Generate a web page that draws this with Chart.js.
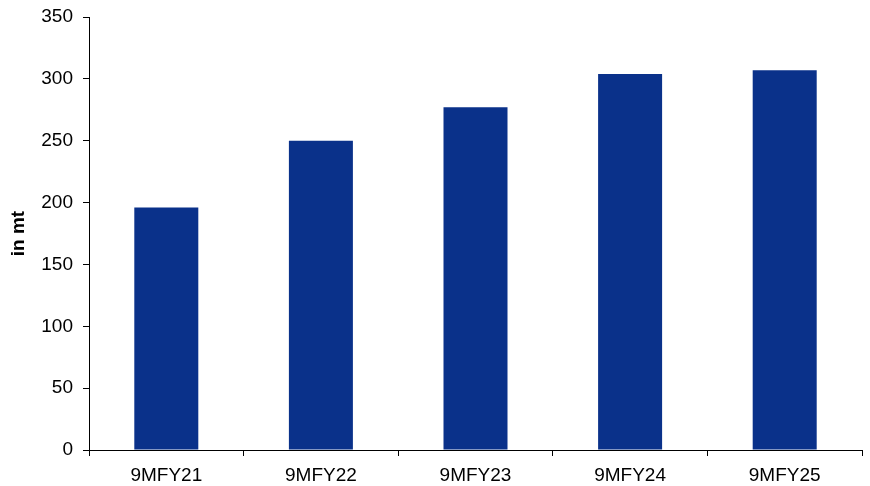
<!DOCTYPE html>
<html>
<head>
<meta charset="utf-8">
<script src="https://cdn.jsdelivr.net/npm/chart.js@4/dist/chart.umd.min.js"></script>
<style>
  html, body { margin: 0; padding: 0; background: #ffffff; }
  #wrap { width: 870px; height: 486px; }
</style>
</head>
<body>
<div id="wrap"><canvas id="c" width="870" height="486"></canvas></div>
<script>
// Nine-month volumes, in million tonnes
const categories = ['9MFY21', '9MFY22', '9MFY23', '9MFY24', '9MFY25'];
const volumes = [196, 250, 277, 304, 307];
const yTicks = [0, 50, 100, 150, 200, 250, 300, 350];

const FONT = '"Liberation Sans", Arial, sans-serif';
const BAR_BLUE = '#0a318a';

new Chart(document.getElementById('c'), {
  type: 'bar',
  data: {
    labels: categories,
    datasets: [{
      data: volumes,
      backgroundColor: BAR_BLUE,
      borderWidth: 0,
      barPercentage: 0.414,
      categoryPercentage: 1.0
    }]
  },
  options: {
    responsive: false,
    animation: false,
    layout: { padding: { top: 17, right: 8, bottom: 0, left: 0 } },
    plugins: {
      legend: { display: false },
      tooltip: { enabled: false }
    },
    scales: {
      x: {
        grid: {
          display: true,
          drawOnChartArea: false,
          offset: true,
          tickLength: 6,
          color: '#000000'
        },
        border: { display: true, color: '#000000', width: 1 },
        ticks: {
          color: '#000000',
          font: { family: FONT, size: 19 },
          padding: 8,
          maxRotation: 0
        },
        afterFit(scale) { scale.height = 36; }
      },
      y: {
        min: 0,
        max: 350,
        afterBuildTicks(scale) {
          scale.ticks = yTicks.map(v => ({ value: v }));
        },
        grid: {
          display: true,
          drawOnChartArea: false,
          tickLength: 6,
          color: '#000000'
        },
        border: { display: true, color: '#000000', width: 1 },
        ticks: {
          color: '#000000',
          font: { family: FONT, size: 19 },
          padding: 10
        },
        title: {
          display: true,
          text: 'in mt',
          color: '#000000',
          font: { family: FONT, size: 19, weight: 'bold' },
          padding: { top: 7, bottom: 0 }
        },
        afterFit(scale) {
          scale.width = 89;
          scale.paddingTop = 0;
          scale.paddingBottom = 0;
        }
      }
    }
  }
});
</script>
</body>
</html>
